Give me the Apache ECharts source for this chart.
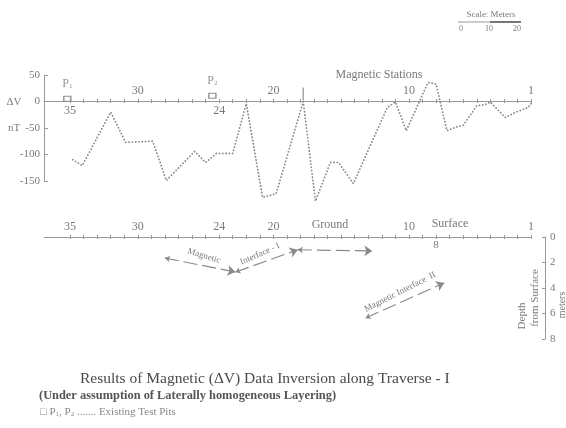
<!DOCTYPE html>
<html>
<head>
<meta charset="utf-8">
<script src="https://cdn.jsdelivr.net/npm/echarts@6/dist/echarts.min.js"></script>
<style>
  html, body { margin: 0; padding: 0; background: #fff; }
  #chart { width: 566px; height: 428px; }
</style>
</head>
<body>
<div id="chart"></div>
<script>
// ΔV profile: station number along the traverse and anomaly in nT
const stations = [34.8, 34.1, 32.0, 30.9, 28.9, 27.9, 25.8, 25.0, 24.2, 23.0, 22.0, 20.8, 19.8,
  17.8, 16.9, 15.8, 15.2, 14.1, 11.6, 11.0, 10.2, 9.3, 8.6, 8.0, 7.2, 6.5, 6.0, 5.0, 4.4, 4.0,
  2.9, 2.1, 1.2, 1.0];
const deltaV = [-110, -121, -20, -77, -75, -149, -94, -115, -98, -98, -4, -181, -174,
  0, -188, -115, -115, -155, -11, -1, -55, -4, 36, 33, -55, -48, -45, -8, -6, -1,
  -30, -20, -11, -4];

// Existing test pits
const pitNames = ['1', '2'];
const pitStations = [35.2, 24.5];
const pitHeights = [5, 11];

// Station boundary mark on the profile line
const boundaryStations = [17.8];

// Inverted magnetic interfaces (station, depth in metres)
const interface1West = { stations: [28.0, 22.8, 18.2], depths: [1.65, 2.75, 1.0] };
const interface1East = { stations: [18.2, 12.7], depths: [1.0, 1.1] };
const interface2 = { stations: [13.2, 7.4], depths: [6.35, 3.6] };

// Axis tick labels
const stationTickValues = Array.from({ length: 35 }, (_, i) => i + 1);
const profileLabelsAbove = [30, 20, 10, 1];
const profileLabelsBelow = [35, 24];
const groundLabelsAbove = [35, 30, 24, 20, 10, 1];
const groundLabelsBelow = [8];
const deltaVTicks = [50, 0, -50, -100, -150];
const depthTicks = [0, 2, 4, 6, 8];

const serif = "'Liberation Serif', 'DejaVu Serif', serif";
const inkText = '#7a7a7a';
const inkLine = '#9a9a9a';

const toPairs = (xs, ys) => xs.map((x, i) => [x, ys[i]]);
// split a traced interface into straight two-point pieces, each drawn with arrow heads
const toSegments = (path) => {
  const pts = toPairs(path.stations, path.depths);
  const segs = [];
  for (let i = 0; i < pts.length - 1; i++) segs.push({ coords: [pts[i], pts[i + 1]] });
  return segs;
};

const stationAxis = (extra) => Object.assign({
  type: 'value', min: 1, max: 36.92, inverse: true,
  splitLine: { show: false }
}, extra);

const tickStyle = { color: inkLine, width: 1 };
const textAt = (x, y, text, size, extra) => Object.assign({
  type: 'text', x, y,
  style: { text, font: size + 'px ' + serif, fill: inkText,
    textAlign: 'center', textVerticalAlign: 'middle', align: 'center', verticalAlign: 'middle' }
}, extra || {});

const chart = echarts.init(document.getElementById('chart'), null, { renderer: 'canvas' });

chart.setOption({
  backgroundColor: '#ffffff',
  animation: false,
  title: [
    { text: 'Results of Magnetic (ΔV) Data Inversion along Traverse - I', left: 75, top: 366,
      textStyle: { fontFamily: serif, fontSize: 15.5, fontWeight: 'normal', color: '#4a4a4a' } },
    { text: '(Under assumption of Laterally homogeneous Layering)', left: 34, top: 385,
      textStyle: { fontFamily: serif, fontSize: 12.4, fontWeight: 'bold', color: '#555' } },
    { text: '□ P{s|1}, P{s|2} ....... Existing Test Pits', left: 35, top: 401,
      textStyle: { fontFamily: serif, fontSize: 11, fontWeight: 'normal', color: '#888',
        rich: { s: { fontFamily: serif, fontSize: 7, color: '#888', padding: [5, 0, 0, 0] } } } }
  ],
  grid: [
    // ΔV profile
    { left: 44, right: 35, top: 75, height: 106, containLabel: false, outerBoundsMode: 'none' },
    // station line at ΔV = 0
    { left: 44, right: 35, top: 75, height: 26, containLabel: false, outerBoundsMode: 'none' },
    // ground section with depth
    { left: 44, right: 35, top: 237, height: 102, containLabel: false, outerBoundsMode: 'none' }
  ],
  xAxis: [
    stationAxis({ gridIndex: 0, show: false }),
    stationAxis({
      gridIndex: 1, position: 'bottom',
      axisLine: { show: true, onZero: false, lineStyle: { color: inkLine, width: 1 } },
      axisTick: { show: true, inside: true, length: 2, customValues: stationTickValues, lineStyle: tickStyle },
      axisLabel: { show: true, inside: true, margin: 4, customValues: profileLabelsAbove,
        fontFamily: serif, fontSize: 12, color: inkText }
    }),
    stationAxis({
      gridIndex: 1, position: 'bottom',
      axisLine: { show: false, onZero: false },
      axisTick: { show: true, inside: false, length: 2, customValues: stationTickValues, lineStyle: tickStyle },
      axisLabel: { show: true, margin: 4, customValues: profileLabelsBelow,
        fontFamily: serif, fontSize: 12, color: inkText }
    }),
    stationAxis({
      gridIndex: 2, position: 'top',
      axisLine: { show: true, onZero: false, lineStyle: { color: inkLine, width: 1 } },
      axisTick: { show: true, inside: false, length: 2, customValues: stationTickValues, lineStyle: tickStyle },
      axisLabel: { show: true, margin: 4, customValues: groundLabelsAbove,
        fontFamily: serif, fontSize: 12, color: inkText }
    }),
    stationAxis({
      gridIndex: 2, position: 'top',
      axisLine: { show: false, onZero: false },
      axisTick: { show: true, inside: true, length: 2, customValues: stationTickValues, lineStyle: tickStyle },
      axisLabel: { show: true, inside: true, margin: 3, customValues: groundLabelsBelow,
        fontFamily: serif, fontSize: 11, color: inkText }
    })
  ],
  yAxis: [
    {
      type: 'value', gridIndex: 0, min: -150, max: 50, interval: 50, position: 'left',
      splitLine: { show: false },
      axisLine: { show: true, onZero: false, lineStyle: { color: inkLine } },
      axisTick: { show: true, inside: true, length: 4, lineStyle: { color: inkLine } },
      axisLabel: { margin: 4, fontFamily: serif, fontSize: 11, color: inkText, customValues: deltaVTicks }
    },
    { type: 'value', gridIndex: 1, min: 0, max: 50, show: false },
    {
      type: 'value', gridIndex: 2, min: 0, max: 8, interval: 2, inverse: true,
      position: 'right', offset: 14,
      splitLine: { show: false },
      axisLine: { show: true, onZero: false, lineStyle: { color: inkLine } },
      axisTick: { show: true, inside: true, length: 3, lineStyle: { color: inkLine } },
      axisLabel: { margin: 5, fontFamily: serif, fontSize: 11, color: inkText, customValues: depthTicks }
    }
  ],
  series: [
    {
      name: 'ΔV', type: 'line', xAxisIndex: 0, yAxisIndex: 0,
      data: toPairs(stations, deltaV),
      showSymbol: false, clip: false,
      lineStyle: { color: '#888', width: 1.8, type: [0.1, 3.2], cap: 'round' }
    },
    {
      name: 'Existing Test Pits', type: 'scatter', xAxisIndex: 0, yAxisIndex: 0,
      data: pitStations.map((s, i) => ({ value: [s, pitHeights[i]], name: pitNames[i] })),
      symbol: 'rect', symbolSize: [7, 5],
      itemStyle: { color: '#fff', borderColor: '#777', borderWidth: 1.2 },
      label: {
        show: true, position: 'top', distance: 6,
        formatter: p => '{p|P}{s|' + p.name + '}',
        rich: {
          p: { fontFamily: serif, fontSize: 12, color: inkText },
          s: { fontFamily: serif, fontSize: 7, color: inkText, padding: [5, 0, 0, 0] }
        }
      },
      clip: false
    },
    {
      name: 'Boundary', type: 'scatter', xAxisIndex: 0, yAxisIndex: 0,
      data: boundaryStations.map(s => [s, 14]),
      symbol: 'rect', symbolSize: [1.4, 13],
      itemStyle: { color: '#888' }, clip: false
    },
    {
      name: 'Magnetic Interface', type: 'lines', coordinateSystem: 'cartesian2d',
      xAxisIndex: 3, yAxisIndex: 2, polyline: false,
      symbol: ['arrow', 'arrow'], symbolSize: [5, 8],
      lineStyle: { color: '#8a8a8a', width: 1.2, type: [14, 5], opacity: 1 },
      data: [].concat(toSegments(interface1West), toSegments(interface1East), toSegments(interface2))
    }
  ],
  graphic: [
    textAt(14, 102, 'ΔV', 11),
    textAt(14, 128, 'nT', 11),
    textAt(379, 75, 'Magnetic Stations', 12),
    textAt(330, 225, 'Ground', 12),
    textAt(450, 224, 'Surface', 12),
    textAt(204, 256, 'Magnetic', 9, { rotation: -0.30 }),
    textAt(260, 254, 'Interface - I', 9, { rotation: 0.42 }),
    textAt(400, 292, 'Magnetic Interface  II', 9, { rotation: 0.47 }),
    textAt(522, 316, 'Depth', 11, { rotation: Math.PI / 2 }),
    textAt(535, 298, 'from Surface', 11, { rotation: Math.PI / 2 }),
    textAt(562, 305, 'meters', 10, { rotation: Math.PI / 2 }),
    // scale bar
    textAt(491, 15, 'Scale: Meters', 9),
    { type: 'line', shape: { x1: 458, y1: 22, x2: 521, y2: 22 }, style: { stroke: '#999', lineWidth: 1 } },
    { type: 'line', shape: { x1: 490, y1: 22, x2: 521, y2: 22 }, style: { stroke: '#777', lineWidth: 2 } },
    textAt(461, 29, '0', 8),
    textAt(489, 29, '10', 8),
    textAt(517, 29, '20', 8)
  ]
});
</script>
</body>
</html>
